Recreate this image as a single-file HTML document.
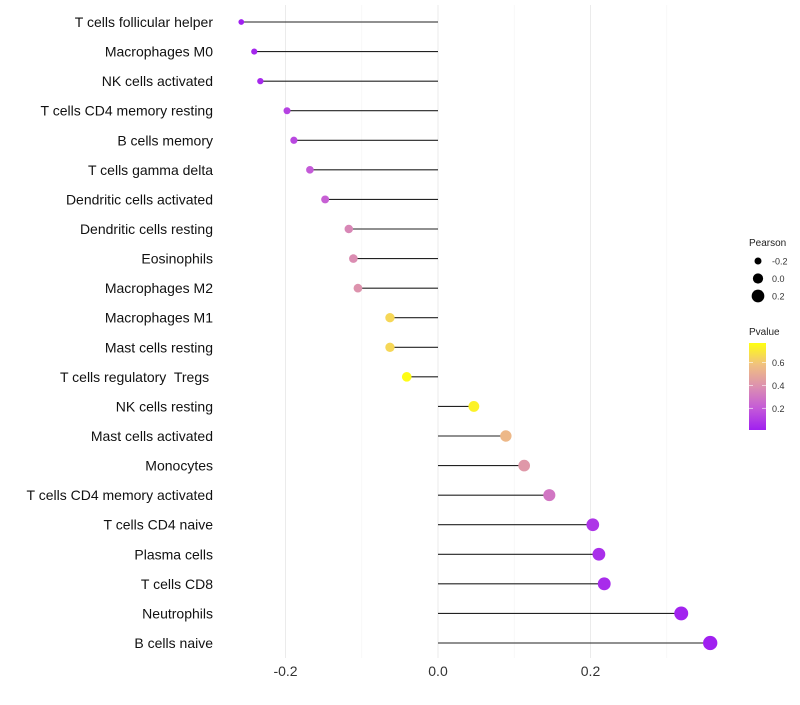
<!DOCTYPE html>
<html><head><meta charset="utf-8"><style>
body{margin:0;background:#fff;font-family:"Liberation Sans",sans-serif}
svg text{font-family:"Liberation Sans",sans-serif;white-space:pre}
</style></head><body>
<svg id="c" width="800" height="700">
<defs><linearGradient id="pg" x1="0" y1="1" x2="0" y2="0">
<stop offset="0" stop-color="#a020f0"/><stop offset="0.25" stop-color="#c45ad8"/><stop offset="0.5" stop-color="#dc90b0"/><stop offset="0.75" stop-color="#f0c080"/><stop offset="1" stop-color="#ffff10"/>
</linearGradient></defs>
</svg>
<script>
const categories=["T cells follicular helper","Macrophages M0","NK cells activated","T cells CD4 memory resting","B cells memory","T cells gamma delta","Dendritic cells activated","Dendritic cells resting","Eosinophils","Macrophages M2","Macrophages M1","Mast cells resting","T cells regulatory  Tregs ","NK cells resting","Mast cells activated","Monocytes","T cells CD4 memory activated","T cells CD4 naive","Plasma cells","T cells CD8","Neutrophils","B cells naive"];
const pearson=[-0.258,-0.241,-0.233,-0.198,-0.189,-0.168,-0.148,-0.117,-0.111,-0.105,-0.063,-0.063,-0.041,0.047,0.089,0.113,0.146,0.203,0.211,0.218,0.319,0.357];
const pvalues=[0.01,0.03,0.04,0.12,0.14,0.2,0.22,0.36,0.38,0.4,0.65,0.65,0.76,0.73,0.55,0.42,0.3,0.08,0.06,0.05,0.02,0.01];
const xTicks=[-0.2,0.0,0.2];
const sizeLegend=[-0.2,0.0,0.2];
const pTicks=[0.2,0.4,0.6];
const NS="http://www.w3.org/2000/svg";
const svg=document.getElementById('c');
const x=v=>438+v*762.5;
const y=i=>22+i*(621/21);
const rad=v=>Math.sqrt(Math.max(3,8+(v+0.26)*70));
const stops=[[0,[160,32,240]],[0.25,[196,90,216]],[0.5,[220,144,176]],[0.75,[240,192,128]],[1,[255,255,16]]];
function col(p){let t=Math.min(1,Math.max(0,(p-0.01)/0.76));for(let k=1;k<stops.length;k++){if(t<=stops[k][0]){const a=stops[k-1],b=stops[k];const f=(t-a[0])/(b[0]-a[0]);return 'rgb('+a[1].map((c,j)=>Math.round(c+(b[1][j]-c)*f)).join(',')+')';}}return 'rgb(255,255,16)';}
function mk(tag,attrs,txt){const e=document.createElementNS(NS,tag);for(const k in attrs)e.setAttribute(k,attrs[k]);if(txt!==undefined)e.textContent=txt;svg.appendChild(e);return e;}
[-0.2,-0.1,0,0.1,0.2,0.3].forEach(v=>{const major=Math.round(v*10)%2===0;const g=mk('line',{x1:x(v),x2:x(v),y1:5,y2:658,stroke:major?'#ebebeb':'#f4f4f4','stroke-width':major?1:0.6});

});
xTicks.forEach(v=>{const t=mk('text',{x:x(v),y:676,'text-anchor':'middle','font-size':14,fill:'#333'},v.toFixed(1));

});
categories.forEach((c,i)=>{
const t=mk('text',{x:213,y:y(i)+5,'text-anchor':'end','font-size':14,fill:'#111'},c);


const l=mk('line',{x1:x(0),x2:x(pearson[i]),y1:y(i),y2:y(i),stroke:'#222','stroke-width':1.1});


const d=mk('circle',{cx:x(pearson[i]),cy:y(i),r:rad(pearson[i]),fill:col(pvalues[i])});


});
let t=mk('text',{x:749,y:246,'font-size':10,fill:'#222'},'Pearson');


sizeLegend.forEach((v,i)=>{const yy=261+i*17.5;
const d=mk('circle',{cx:758,cy:yy,r:rad(v),fill:'#000'});


const s=mk('text',{x:772,y:yy+3.5,'font-size':9,fill:'#333'},v.toFixed(1));

});
t=mk('text',{x:749,y:335,'font-size':10,fill:'#222'},'Pvalue');


const r=mk('rect',{x:749,y:343,width:17,height:87,fill:'url(#pg)'});


const py=p=>430-(p-0.01)/0.76*87;
pTicks.forEach(p=>{const yy=py(p);
mk('line',{x1:749,x2:753,y1:yy,y2:yy,stroke:'#fff','stroke-width':0.6});
mk('line',{x1:762,x2:766,y1:yy,y2:yy,stroke:'#fff','stroke-width':0.6});
const s=mk('text',{x:772,y:yy+3.5,'font-size':9,fill:'#333'},p.toFixed(1));

});
</script>
</body></html>
